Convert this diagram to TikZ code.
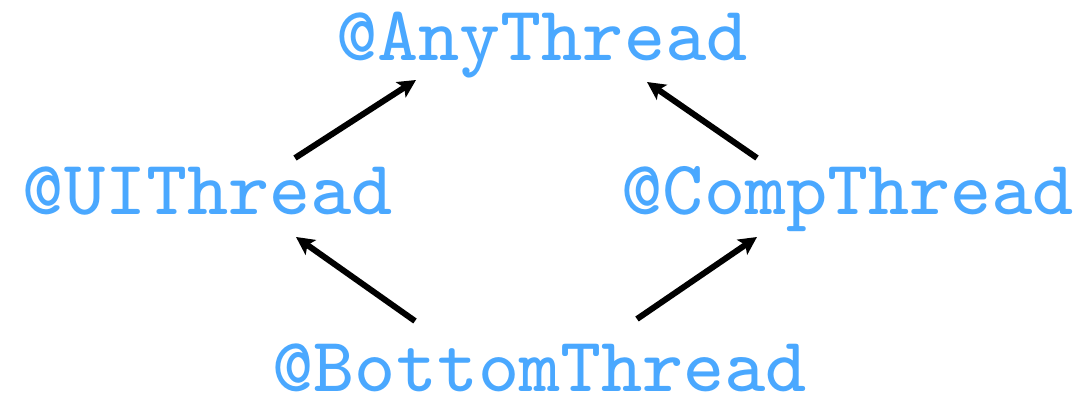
\documentclass[tikz,border=0pt]{standalone}
\usetikzlibrary{arrows.meta}
\DeclareFontFamily{OT1}{cmtteight}{\hyphenchar\font=-1}
\DeclareFontShape{OT1}{cmtteight}{m}{n}{<-> cmtt8}{}
\definecolor{threadblue}{RGB}{74,168,255}
\begin{document}
\begin{tikzpicture}[x=0.5pt,y=-0.5pt,
  lbl/.style={text=threadblue,font=\fontencoding{OT1}\fontfamily{cmtteight}\fontseries{m}\fontshape{n}\fontsize{38.7}{40}\selectfont,anchor=base,inner sep=0pt},
  arr/.style={line width=3pt,-{Stealth[length=9pt,width=9pt,inset=2pt]}}]
\useasboundingbox (0,0) rectangle (1083,401);
\node[lbl] (any) at (542,61) {@AnyThread};
\node[lbl] (ui) at (208,214) {@UIThread};
\node[lbl] (comp) at (848,214) {@CompThread};
\node[lbl] (bottom) at (540,391) {@BottomThread};
\coordinate (a1s) at (295,158);
\coordinate (a1e) at (416,80);
\coordinate (a2s) at (757,158);
\coordinate (a2e) at (647,82);
\coordinate (a3s) at (415,321);
\coordinate (a3e) at (296,237);
\coordinate (a4s) at (637,319);
\coordinate (a4e) at (757,237);
\draw[arr] (a1s) -- (a1e);
\draw[arr] (a2s) -- (a2e);
\draw[arr] (a3s) -- (a3e);
\draw[arr] (a4s) -- (a4e);
\end{tikzpicture}
\end{document}
